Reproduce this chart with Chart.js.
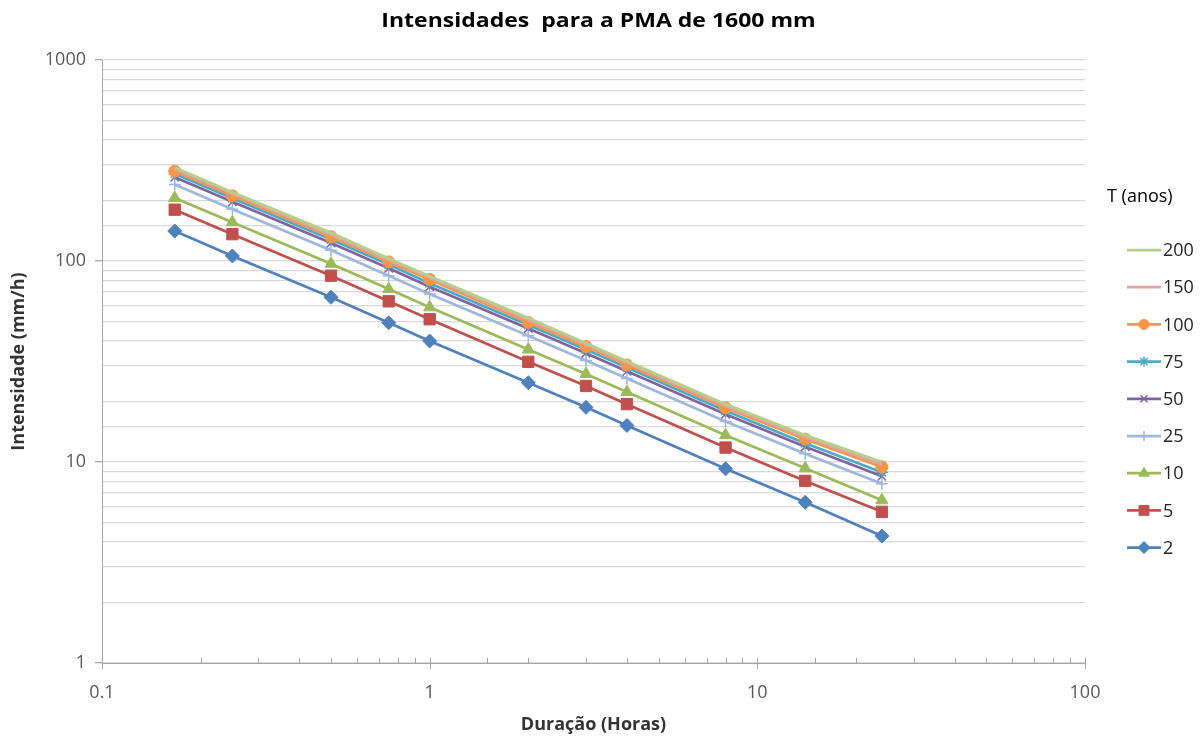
<!DOCTYPE html>
<html>
<head>
<meta charset="utf-8">
<script src="https://cdn.jsdelivr.net/npm/chart.js@4/dist/chart.umd.min.js"></script>
<style>
body{margin:0;background:#fff}
#wrap{width:1203px;height:742px;position:relative}
</style>
</head>
<body>
<div id="wrap"><canvas id="idf"></canvas></div>
<script>
// duracoes em horas (10 min ... 24 h)
const durations = [0.1667, 0.25, 0.5, 0.75, 1, 2, 3, 4, 8, 14, 24]
const periods = ["200","150","100","75","50","25","10","5","2"]

// intensidades (mm/h)
const t200 = [292, 220, 138, 103, 84, 52, 39, 31.7, 19.4, 13.6, 10]
const t150 = [286, 216, 135, 101, 82.5, 50.8, 38.3, 31.1, 19, 13.3, 9.7]
const t100 = [280, 211, 132, 99, 81, 49.5, 37.5, 30.4, 18.6, 13, 9.45]
const t75 = [272, 205, 128, 96, 77.5, 48, 36.3, 29.5, 18, 12.4, 8.9]
const t50 = [261, 197, 123, 92, 74.5, 46.2, 34.8, 28.3, 17.3, 11.9, 8.5]
const t25 = [240, 181, 113, 84.5, 68.5, 42.5, 32, 26, 15.9, 11, 7.8]
const t10 = [206, 156, 97, 72.5, 58.8, 36.3, 27.4, 22.3, 13.6, 9.3, 6.45]
const t5 = [180, 136, 84.5, 63, 51.3, 31.5, 23.9, 19.4, 11.8, 8.05, 5.65]
const t2 = [141, 106, 66, 49.3, 40, 24.8, 18.7, 15.2, 9.25, 6.3, 4.28]

const values = [t200, t150, t100, t75, t50, t25, t10, t5, t2]

const colors = ["#B3D08C","#E3A3A1","#F79646","#4BACC6","#8064A2","#9DB7DE","#9BBB59","#C0504D","#4F81BD"]
const markers = [false, false, "circle", "star", "crossRot", "cross", "triangle", "rect", "rectRot"]
const sizes = [0, 0, 6, 6, 6, 6, 7, 8, 7]

const font = "'Open Sans', sans-serif"

function isPow10(v){
let l=Math.log10(v)
return Math.abs(l-Math.round(l))<1e-6
}

const datasets = periods.map((p,i)=>({
label:p,
data:durations.map((d,j)=>({x:d,y:values[i][j]})),
borderColor:colors[i],
backgroundColor:colors[i],
borderWidth:2.75,
pointStyle:markers[i],
pointRadius:sizes[i],
pointBorderWidth:(markers[i]=="cross"||markers[i]=="crossRot"||markers[i]=="star")?1.5:1,
tension:0
}))

// marcas menores do eixo x + titulo + legenda ao estilo Excel
const extras = {
id:"extras",
afterDraw(chart){
const ctx=chart.ctx
const xs=chart.scales.x
const area=chart.chartArea
ctx.save()
ctx.strokeStyle="#A6A6A6"
ctx.lineWidth=1
xs.ticks.forEach(t=>{
let px=Math.round(xs.getPixelForValue(t.value))+0.5
ctx.beginPath()
ctx.moveTo(px,area.bottom-5)
ctx.lineTo(px,area.bottom+(isPow10(t.value)?6:0))
ctx.stroke()
})

// titulo (o original aparece esticado na horizontal)
ctx.save()
ctx.fillStyle="#000"
ctx.font="bold 20px "+font
ctx.textAlign="center"
ctx.textBaseline="middle"
ctx.translate((area.left+area.right)/2+5,21)
ctx.scale(1.15,1)
ctx.fillText("Intensidades  para a PMA de 1600 mm",0,0)
ctx.restore()

// legenda
let lx=area.right+42
ctx.font="18px "+font
ctx.fillStyle="#000"
ctx.textAlign="left"
ctx.textBaseline="middle"
ctx.fillText("T (anos)",area.right+22,197)
chart.data.datasets.forEach((ds,i)=>{
let y=250+i*37.2
ctx.strokeStyle=ds.borderColor
ctx.lineWidth=2.75
ctx.beginPath()
ctx.moveTo(lx,y)
ctx.lineTo(lx+34,y)
ctx.stroke()
if(ds.pointStyle && Chart.helpers && Chart.helpers.drawPoint){
ctx.fillStyle=ds.backgroundColor
ctx.lineWidth=ds.pointBorderWidth
Chart.helpers.drawPoint(ctx,{pointStyle:ds.pointStyle,radius:ds.pointRadius-1,borderWidth:ds.pointBorderWidth,rotation:0},lx+17,y)
}
ctx.fillStyle="#262626"
ctx.fillText(ds.label,lx+36,y+1)
})
ctx.restore()
}
}

new Chart(document.getElementById("idf"),{
type:"line",
data:{datasets:datasets},
plugins:[extras],
options:{
responsive:true,
maintainAspectRatio:false,
animation:false,
layout:{padding:{top:60,right:118,left:0,bottom:0}},
plugins:{legend:{display:false},tooltip:{enabled:false},title:{display:false}},
scales:{
x:{
type:"logarithmic",
min:0.1,
max:100,
grid:{display:false,drawTicks:false},
border:{display:true,color:"#A6A6A6",width:1},
ticks:{autoSkip:false,maxRotation:0,padding:19,color:"#595959",font:{family:font,size:18},
callback:v=>isPow10(v)?String(v):""},
title:{display:true,text:"Duração (Horas)",color:"#333",font:{family:font,size:18,weight:"bold"},padding:{top:0,bottom:6}},
afterFit:s=>{s.height=79}
},
y:{
type:"logarithmic",
min:1,
max:1000,
grid:{color:"#D9D9D9",lineWidth:1.3,tickLength:7,
tickColor:c=>isPow10(c.tick.value)?"#A6A6A6":"rgba(0,0,0,0)"},
border:{color:"#A6A6A6",width:1},
ticks:{autoSkip:false,padding:9,color:"#595959",font:{family:font,size:18},
callback:v=>isPow10(v)?String(v):""},
title:{display:true,text:"Intensidade (mm/h)",color:"#333",font:{family:font,size:18,weight:"bold"},padding:{top:8,bottom:4}},
afterFit:s=>{s.width=102}
}
}
}
})
</script>
</body>
</html>
